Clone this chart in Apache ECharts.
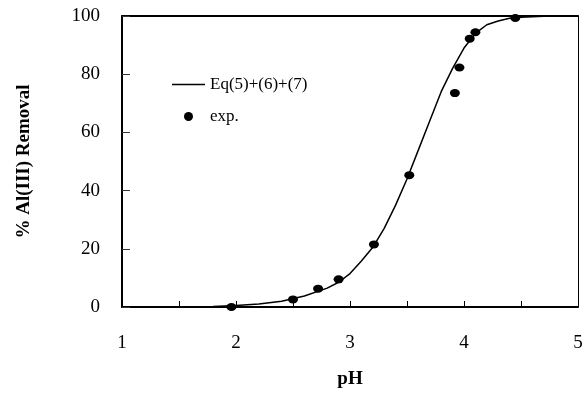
<!DOCTYPE html>
<html>
<head>
<meta charset="utf-8">
<script src="https://cdn.jsdelivr.net/npm/echarts@6/dist/echarts.min.js"></script>
<style>html,body{margin:0;padding:0;background:#fff}#c{width:587px;height:394px}</style>
</head>
<body>
<div id="c"></div>
<script>
// Model curve Eq(5)+(6)+(7): pH and % removal
const modelPH = [1.5, 1.6, 1.8, 2.0, 2.2, 2.4, 2.6, 2.8, 2.9, 3.0, 3.1, 3.2, 3.3, 3.4, 3.5, 3.6, 3.7, 3.8, 3.9, 4.0, 4.1, 4.2, 4.3, 4.4, 4.5, 4.7, 5.0];
const modelVal = [0, 0.1, 0.2, 0.5, 1.0, 2.0, 3.8, 6.5, 8.5, 11.5, 15.8, 20.5, 27, 35, 44, 54, 64, 74, 82, 89, 94, 97, 98.3, 99.2, 99.6, 99.9, 100];
// Experimental points
const expPH = [1.96, 2.50, 2.72, 2.90, 3.21, 3.52, 3.92, 3.96, 4.05, 4.10, 4.45];
const expVal = [0, 2.6, 6.3, 9.5, 21.5, 45.3, 73.5, 82.3, 92.2, 94.4, 99.3];
const xTicks = [1, 2, 3, 4, 5];
const yTicks = [0, 20, 40, 60, 80, 100];

const font = 'Liberation Serif';
const chart = echarts.init(document.getElementById('c'));
chart.setOption({
  animation: false,
  backgroundColor: '#fff',
  grid: { left: 122, right: 9, top: 16, bottom: 86 },
  legend: {
    left: 167, top: 71, orient: 'vertical',
    itemWidth: 33, itemHeight: 9, itemGap: 15,
    selectedMode: false,
    textStyle: { fontFamily: font, fontSize: 17, color: '#000', padding: [8, 0, 0, 0] },
    data: [
      { name: 'Eq(5)+(6)+(7)', icon: 'path://M0,0H33V1.4H0Z' },
      { name: 'exp.', icon: 'circle' }
    ]
  },
  xAxis: [{
    type: 'value', min: 1, max: 5, interval: 0.5,
    name: 'pH', nameLocation: 'middle', nameGap: 63,
    nameTextStyle: { fontFamily: font, fontSize: 19, fontWeight: 'bold', color: '#000' },
    axisLine: { lineStyle: { color: '#000', width: 2 } },
    axisTick: { inside: true, length: 6, lineStyle: { color: '#000' } },
    axisLabel: { margin: 27, fontFamily: font, fontSize: 19, color: '#000',
      formatter: v => xTicks.includes(v) ? String(v) : '' },
    splitLine: { show: false }
  }, {
    type: 'value', position: 'top', min: 1, max: 5,
    axisLine: { show: true, onZero: false, lineStyle: { color: '#000', width: 2 } },
    axisTick: { show: false }, axisLabel: { show: false }, splitLine: { show: false }
  }],
  yAxis: [{
    type: 'value', min: 0, max: 100, interval: 20,
    name: '% Al(III) Removal', nameLocation: 'middle', nameGap: 88,
    nameTextStyle: { fontFamily: font, fontSize: 19, fontWeight: 'bold', color: '#000' },
    axisLine: { show: true, lineStyle: { color: '#000', width: 2 } },
    axisTick: { show: true, inside: true, length: 8, lineStyle: { color: '#333' } },
    axisLabel: { margin: 22, fontFamily: font, fontSize: 19, color: '#000',
      formatter: v => yTicks.includes(v) ? String(v) : '' },
    splitLine: { show: false }
  }, {
    type: 'value', position: 'right', min: 0, max: 100,
    axisLine: { show: true, onZero: false, lineStyle: { color: '#000', width: 1 } },
    axisTick: { show: false }, axisLabel: { show: false }, splitLine: { show: false }
  }],
  series: [{
    name: 'Eq(5)+(6)+(7)', type: 'line', symbol: 'none',
    lineStyle: { color: '#000', width: 1.5 }, itemStyle: { color: '#000' },
    data: modelPH.map((p, i) => [p, modelVal[i]])
  }, {
    name: 'exp.', type: 'scatter', symbol: 'circle', symbolSize: [10, 8],
    itemStyle: { color: '#000', opacity: 1 },
    data: expPH.map((p, i) => [p, expVal[i]])
  }]
});
</script>
</body>
</html>
